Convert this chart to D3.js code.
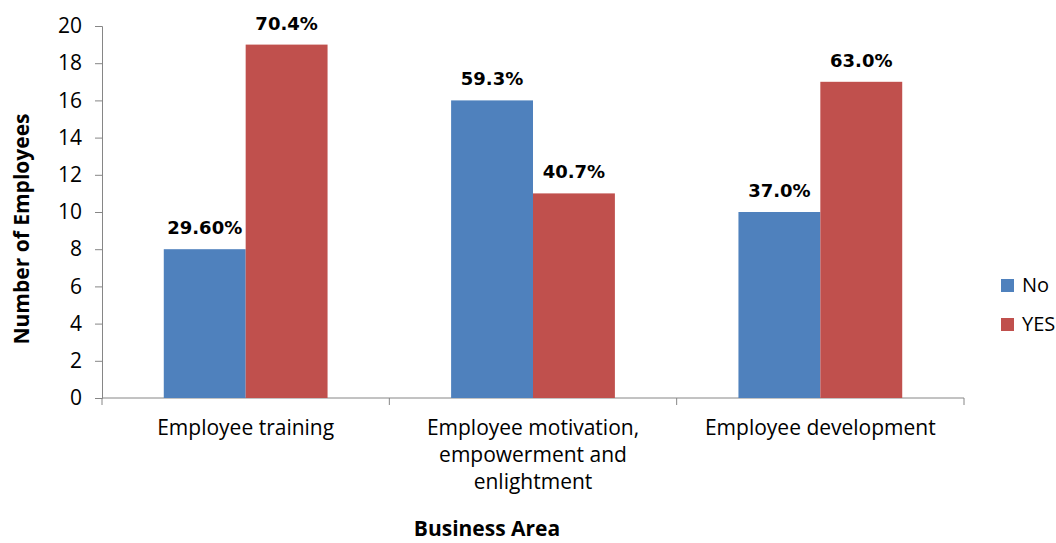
<!DOCTYPE html>
<html>
<head>
<meta charset="utf-8">
<script src="https://cdn.jsdelivr.net/npm/d3@7"></script>
<style>
  body { margin: 0; background: #fff; }
  svg { display: block; }
</style>
</head>
<body>
<div id="chart"></div>
<script>
const categories = [
  ["Employee training"],
  ["Employee motivation,", "empowerment and", "enlightment"],
  ["Employee development"]
];
const seriesNames = ["No", "YES"];
const noValues = [8, 16, 10];
const yesValues = [19, 11, 17];
const noLabels = ["29.60%", "59.3%", "37.0%"];
const yesLabels = ["70.4%", "40.7%", "63.0%"];
const yTicks = [0, 2, 4, 6, 8, 10, 12, 14, 16, 18, 20];
const colors = ["#4F81BD", "#C0504D"];

const width = 1056, height = 543;
const margin = { top: 26, right: 92, bottom: 145, left: 102 };

const svg = d3.select("#chart").append("svg")
  .attr("width", width)
  .attr("height", height);

const catKeys = categories.map((c, i) => i);

const x0 = d3.scaleBand()
  .domain(catKeys)
  .range([margin.left, width - margin.right])
  .paddingInner(0.43)
  .paddingOuter(0.215);

const x1 = d3.scaleBand()
  .domain(seriesNames)
  .range([0, x0.bandwidth()]);

const y = d3.scaleLinear()
  .domain([0, 20])
  .range([height - margin.bottom, margin.top]);

const rows = catKeys.map(i => ({
  cat: i,
  vals: [
    { key: "No", value: noValues[i], label: noLabels[i] },
    { key: "YES", value: yesValues[i], label: yesLabels[i] }
  ]
}));

// y axis
const yAxis = svg.append("g")
  .attr("transform", `translate(${margin.left},0)`)
  .call(d3.axisLeft(y).tickValues(yTicks).tickSize(7).tickPadding(13));
yAxis.select(".domain").attr("stroke", "#868686");
yAxis.selectAll(".tick line").attr("stroke", "#868686");
yAxis.selectAll("text")
  .attr("font-family", "'Open Sans', sans-serif")
  .attr("font-size", 21)
  .attr("fill", "#000");

// x axis line with category separators
const xAxisG = svg.append("g");
xAxisG.append("line")
  .attr("x1", margin.left).attr("x2", width - margin.right)
  .attr("y1", y(0)).attr("y2", y(0))
  .attr("stroke", "#868686");
const step = x0.step();
d3.range(categories.length + 1).forEach(i => {
  const xx = margin.left + i * step;
  xAxisG.append("line")
    .attr("x1", xx).attr("x2", xx)
    .attr("y1", y(0)).attr("y2", y(0) + 7)
    .attr("stroke", "#868686");
});

// bars
const groups = svg.append("g").selectAll("g")
  .data(rows)
  .enter().append("g")
  .attr("transform", d => `translate(${x0(d.cat)},0)`);

groups.selectAll("rect")
  .data(d => d.vals)
  .enter().append("rect")
  .attr("x", d => x1(d.key))
  .attr("y", d => y(d.value))
  .attr("width", x1.bandwidth())
  .attr("height", d => y(0) - y(d.value))
  .attr("fill", (d, i) => colors[i]);

groups.selectAll("text.val")
  .data(d => d.vals)
  .enter().append("text")
  .attr("class", "val")
  .attr("x", d => x1(d.key) + x1.bandwidth() / 2)
  .attr("y", d => y(d.value) - 15)
  .attr("text-anchor", "middle")
  .attr("font-family", "'DejaVu Sans', Verdana, sans-serif")
  .attr("font-weight", "bold")
  .attr("font-size", 18)
  .attr("fill", "#000")
  .text(d => d.label);

// category labels
svg.append("g").selectAll("text")
  .data(rows)
  .enter().append("text")
  .attr("x", d => x0(d.cat) + x0.bandwidth() / 2)
  .attr("y", y(0) + 37)
  .attr("text-anchor", "middle")
  .attr("font-family", "'Open Sans', sans-serif")
  .attr("font-size", 21)
  .attr("fill", "#000")
  .selectAll("tspan")
  .data(d => categories[d.cat])
  .enter().append("tspan")
  .attr("x", function () { return this.parentNode.getAttribute("x"); })
  .attr("dy", (d, i) => i === 0 ? 0 : 27)
  .text(d => d);

// axis titles
svg.append("text")
  .attr("x", 487)
  .attr("y", 536)
  .attr("text-anchor", "middle")
  .attr("font-family", "'Open Sans', sans-serif")
  .attr("font-weight", "bold")
  .attr("font-size", 21)
  .text("Business Area");

svg.append("text")
  .attr("transform", `translate(29,${(y(0) + y(20)) / 2 + 17}) rotate(-90)`)
  .attr("text-anchor", "middle")
  .attr("font-family", "'Open Sans', sans-serif")
  .attr("font-weight", "bold")
  .attr("font-size", 21)
  .text("Number of Employees");

// legend
const legend = svg.append("g").selectAll("g")
  .data(seriesNames)
  .enter().append("g")
  .attr("transform", (d, i) => `translate(1001,${279 + i * 39})`);
legend.append("rect")
  .attr("width", 13).attr("height", 13)
  .attr("fill", (d, i) => colors[i]);
legend.append("text")
  .attr("x", 21)
  .attr("y", 13)
  .attr("font-family", "'Open Sans', sans-serif")
  .attr("font-size", 20)
  .text(d => d);
</script>
</body>
</html>
